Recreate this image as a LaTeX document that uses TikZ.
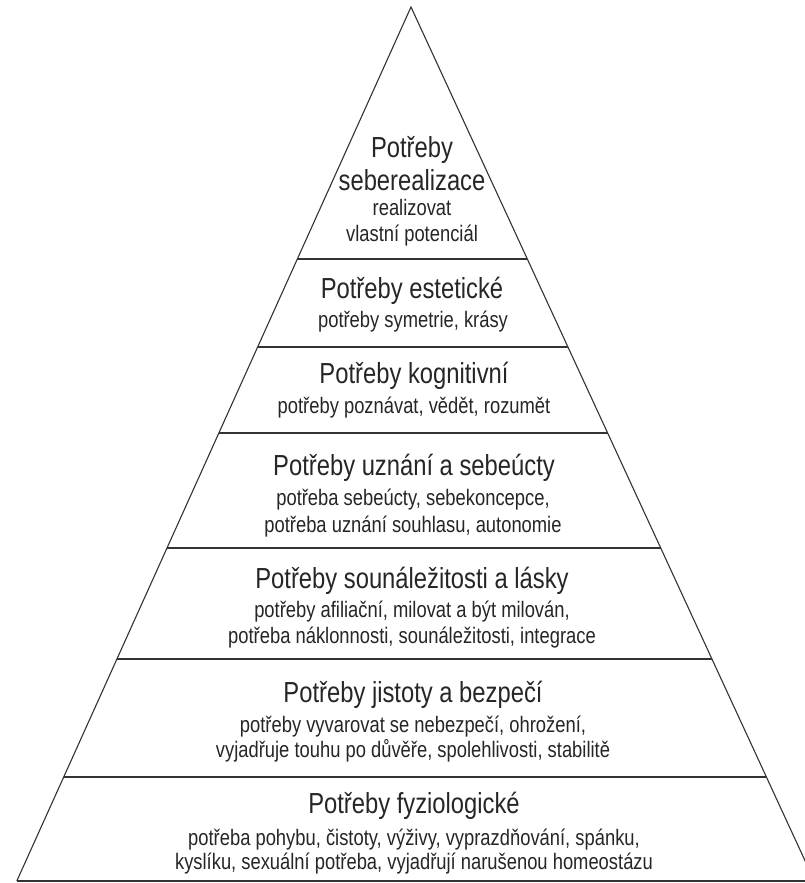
\documentclass[tikz,border=0pt]{standalone}
\usepackage{fontspec}
\usetikzlibrary{calc}
\newfontfamily\pyrfont[FakeStretch=0.82]{Liberation Sans}
\newcommand{\tit}{\fontsize{29}{34}\selectfont}
\newcommand{\sbt}{\fontsize{22.4}{26}\selectfont}
\tikzset{
  level/.style={anchor=base, inner sep=0pt, text=black!85, font=\pyrfont\tit},
  detail/.style={anchor=base, inner sep=0pt, text=black!85, font=\pyrfont\sbt},
  side/.style={line width=1.1pt, black!80},
  shelf/.style={line width=1.5pt, black!80}
}
\begin{document}
\begin{tikzpicture}[x=1pt, y=-1pt]
      \useasboundingbox (0,0) rectangle (805,883);
      \clip (0,0) rectangle (805,883);
      \fill[white] (0,0) rectangle (805,883);

      \coordinate (apex) at (411,7);
      \coordinate (bl) at (16.8,881);
      \coordinate (br) at (814.4,881);
      \draw[side] (bl) -- (apex) -- (br);
      \draw[shelf] (bl) -- (br);
      \foreach \y in {259,347,433,548,659,777} {
        \draw[shelf] ($(apex)!{(\y-7)/874}!(bl)$) -- ($(apex)!{(\y-7)/874}!(br)$);
      }

      \node[level] (selfA) at (412,157) {Potřeby};
      \node[level] (selfB) at (412,190) {seberealizace};
      \node[detail] (selfC) at (412,215) {realizovat};
      \node[detail] (selfD) at (412,241) {vlastní potenciál};

      \node[level] (estT) at (412,298) {Potřeby estetické};
      \node[detail] (estS) at (413,327) {potřeby symetrie, krásy};

      \node[level] (kogT) at (414,383) {Potřeby kognitivní};
      \node[detail] (kogS) at (414,413) {potřeby poznávat, vědět, rozumět};

      \node[level] (uznT) at (414,475) {Potřeby uznání a sebeúcty};
      \node[detail] (uznS) at (413,505) {potřeba sebeúcty, sebekoncepce,};
      \node[detail] (uznU) at (413,532) {potřeba uznání souhlasu, autonomie};

      \node[level] (souT) at (412,588) {Potřeby sounáležitosti a lásky};
      \node[detail] (souS) at (412,617) {potřeby afiliační, milovat a být milován,};
      \node[detail] (souU) at (412,643) {potřeba náklonnosti, sounáležitosti, integrace};

      \node[level] (jisT) at (413,702) {Potřeby jistoty a bezpečí};
      \node[detail] (jisS) at (413,732) {potřeby vyvarovat se nebezpečí, ohrožení,};
      \node[detail] (jisU) at (413,757) {vyjadřuje touhu po důvěře, spolehlivosti, stabilitě};

      \node[level] (fyzT) at (414,813) {Potřeby fyziologické};
      \node[detail] (fyzS) at (414,845) {potřeba pohybu, čistoty, výživy, vyprazdňování, spánku,};
      \node[detail] (fyzU) at (414,869) {kyslíku, sexuální potřeba, vyjadřují narušenou homeostázu};
    \end{tikzpicture}
\end{document}
